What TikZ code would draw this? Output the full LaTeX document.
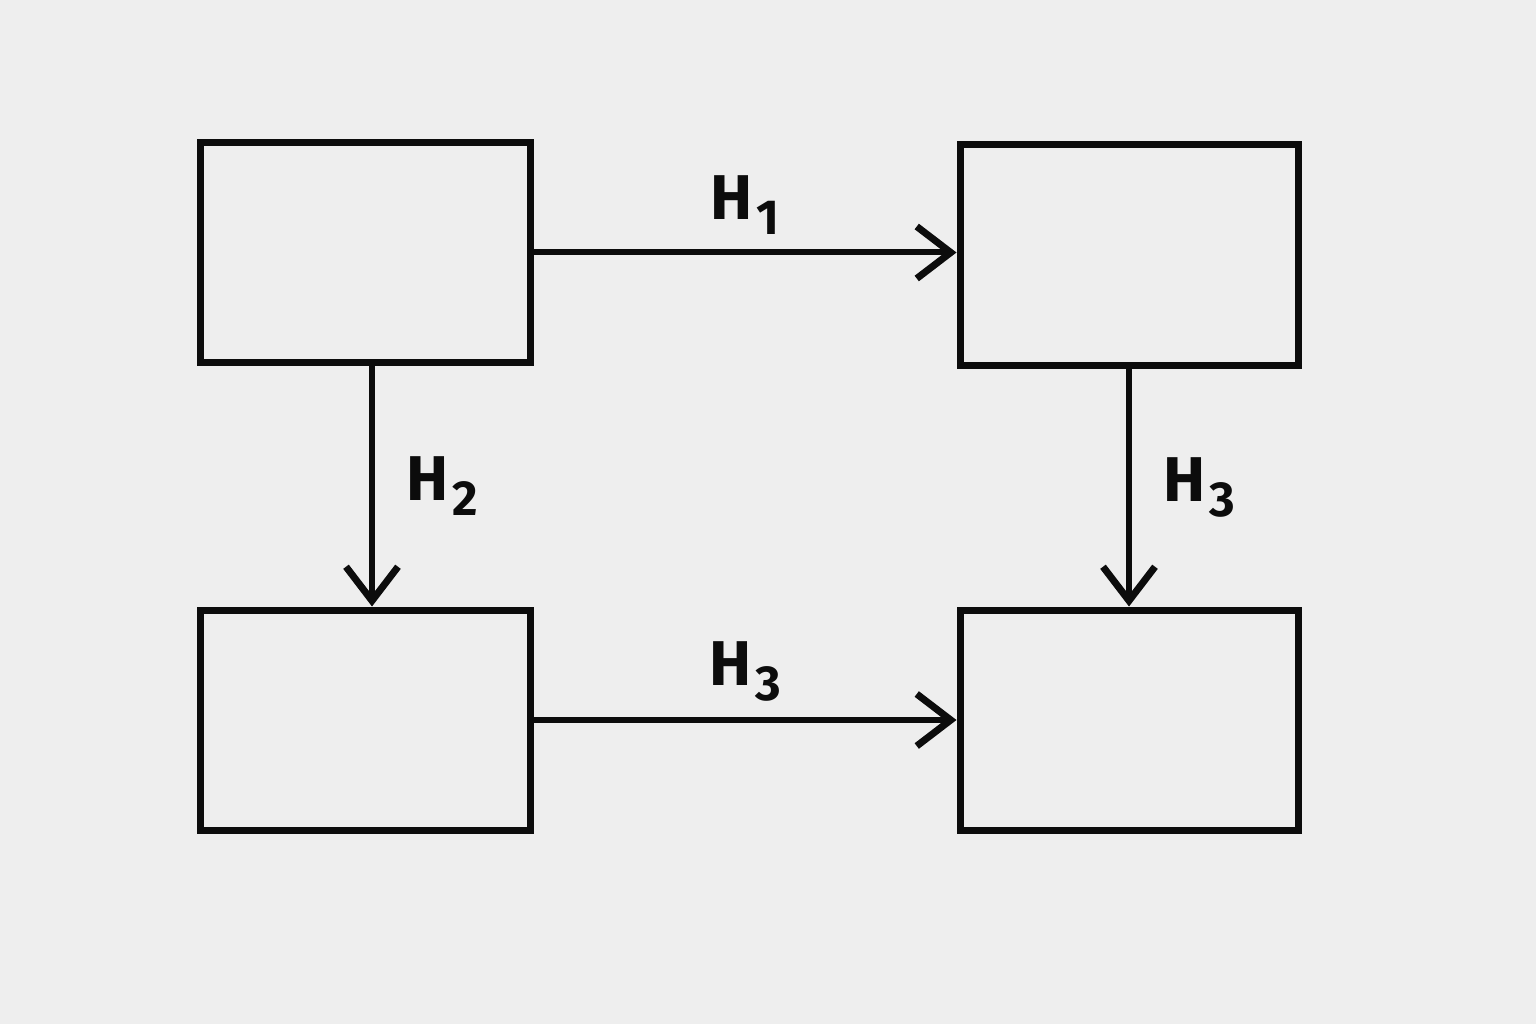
\documentclass[tikz,border=0pt]{standalone}
\usepackage{fontspec}
\setmainfont{Fira Sans}
\usetikzlibrary{arrows.meta,positioning}
\definecolor{paper}{RGB}{238, 238, 238}
\definecolor{ink}{RGB}{12, 12, 12}

\newcommand{\hsub}[1]{H\kern1pt\raisebox{-0.45ex}{\fontsize{14}{16}\selectfont #1}}

\tikzset{
    stage/.style={draw=ink, line width=0.07cm, minimum width=3.3cm, minimum height=2.19cm, inner sep=0pt},
    link/.style={draw=ink, line width=0.06cm, -{Straight Barb[length=0.34cm, width=0.52cm, line width=0.07cm]}},
    lbl/.style={text=ink, font=\fontsize{18}{20}\selectfont\bfseries}
}

\begin{document}
\begin{tikzpicture}
    % background and fixed frame
    \fill[paper] (0,0) rectangle (15.36,10.24);
    \useasboundingbox (0,0) rectangle (15.36,10.24);

    % boxes
    \node[stage] (tl) at (3.65,7.715) {};
    \node[stage, minimum width=3.38cm, minimum height=2.2cm] (tr) at (11.29,7.69) {};
    \node[stage, minimum height=2.2cm] (bl) at (3.65,3.04) {};
    \node[stage, minimum width=3.38cm, minimum height=2.2cm] (br) at (11.29,3.04) {};

    % arrows
    \draw[link] (tl.east) -- (tl.east -| tr.west) node[lbl, midway, above=1pt] {\hsub{1}};
    \draw[link] ([xshift=0.07cm]tl.south) -- ([xshift=0.07cm]bl.north) node[lbl, midway, right=0.2cm] {\hsub{2}};
    \draw[link] (tr.south) -- (br.north) node[lbl, midway, right=0.2cm] {\hsub{3}};
    \draw[link] (bl.east) -- (bl.east -| br.west) node[lbl, midway, above=1pt] {\hsub{3}};
\end{tikzpicture}
\end{document}
